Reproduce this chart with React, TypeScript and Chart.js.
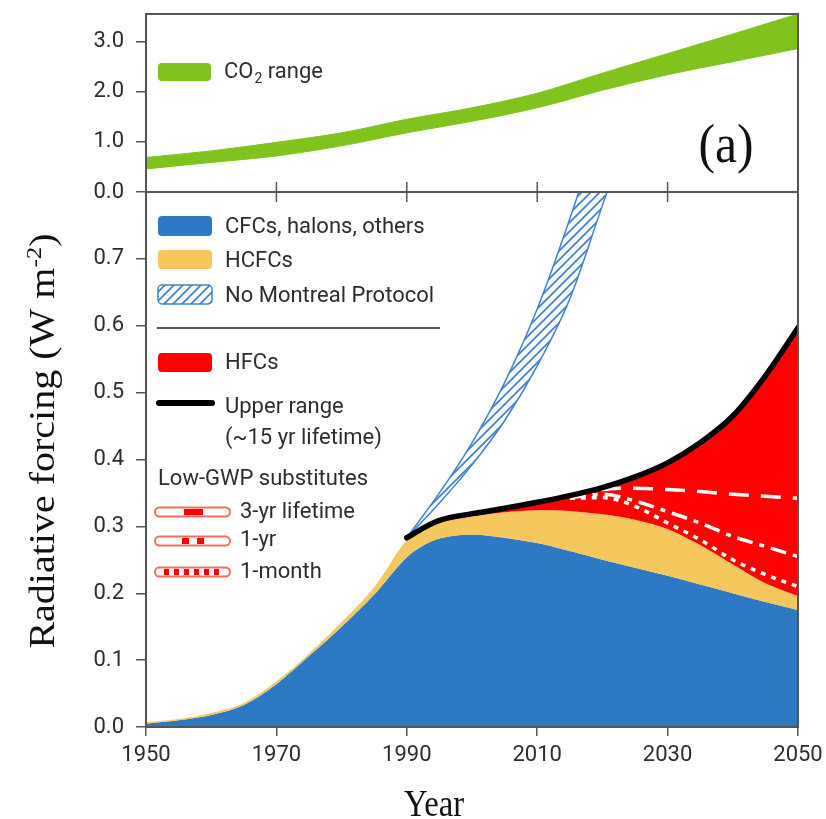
import React, { useEffect, useRef } from "react";
import { Chart, registerables } from "chart.js";
Chart.register(...registerables);

// ---------- data ----------
const co2Years = [1950, 1960, 1970, 1980, 1990, 2000, 2010, 2020, 2030, 2040, 2050];
const co2Low = [0.46, 0.59, 0.72, 0.92, 1.18, 1.41, 1.68, 2.03, 2.34, 2.6, 2.86];
const co2High = [0.69, 0.82, 0.99, 1.18, 1.45, 1.68, 1.97, 2.37, 2.76, 3.15, 3.55];

const years = [1950, 1955, 1960, 1965, 1970, 1975, 1980, 1985, 1990, 1993, 1995, 2000, 2005, 2010, 2015, 2020, 2025, 2030, 2035, 2040, 2045, 2050];
const cfc = [0.005, 0.01, 0.018, 0.033, 0.064, 0.106, 0.15, 0.198, 0.254, 0.274, 0.282, 0.288, 0.283, 0.275, 0.263, 0.25, 0.238, 0.226, 0.213, 0.2, 0.187, 0.175];
const hcfc = [0.002, 0.002, 0.003, 0.003, 0.004, 0.004, 0.007, 0.011, 0.025, 0.023, 0.023, 0.027, 0.038, 0.049, 0.06, 0.068, 0.072, 0.07, 0.059, 0.043, 0.028, 0.021];

const hfcYears = [1990, 1993, 1995, 2000, 2005, 2010, 2015, 2020, 2025, 2030, 2035, 2040, 2045, 2050];
const hfcUpper = [0.004, 0.003, 0.004, 0.004, 0.006, 0.012, 0.023, 0.04, 0.064, 0.099, 0.153, 0.222, 0.31, 0.401];

const nmpYears = [1990, 1995, 2000, 2005, 2010, 2015, 2020, 2025];
const nmpHigh = [0.283, 0.35, 0.425, 0.515, 0.625, 0.76, 0.91, 1.07];
const nmpLow = [0.283, 0.335, 0.392, 0.458, 0.54, 0.64, 0.78, 0.92];

const subYears = [2015, 2020, 2025, 2030, 2035, 2040, 2045, 2050];
const sub3yr = [0.345, 0.355, 0.357, 0.355, 0.352, 0.348, 0.345, 0.342];
const sub1yr = [0.343, 0.348, 0.338, 0.322, 0.305, 0.285, 0.27, 0.255];
const sub1mo = [0.342, 0.343, 0.33, 0.305, 0.28, 0.25, 0.228, 0.21];

const xTicks = [1950, 1970, 1990, 2010, 2030, 2050];
const midTicks = [1970, 1990, 2010, 2030];
const topYTicks = [0, 1, 2, 3];
const bottomYTicks = [0, 0.1, 0.2, 0.3, 0.4, 0.5, 0.6, 0.7];

// ---------- styles ----------
const FONT = "Roboto, 'Liberation Sans', sans-serif";
const SERIF = "'Liberation Serif', 'DejaVu Serif', serif";
const AXIS = "#555555";
const TEXT = "#2d2d2d";
const BLUE = "#2e79c4";
const YELLOW = "#f6c75c";
const RED = "#ff0000";
const GREEN = "#7fc31c";
const HATCH = "#3f7fd0";
const BOT_OFF = 180;

const pts = (xs: number[], ys: number[]) => xs.map((x, i) => ({ x, y: ys[i] }));

function makeHatch(ctx: CanvasRenderingContext2D) {
  const c = document.createElement("canvas");
  c.width = 9;
  c.height = 9;
  const g = c.getContext("2d")!;
  g.fillStyle = "#ffffff";
  g.fillRect(0, 0, 9, 9);
  g.strokeStyle = HATCH;
  g.lineWidth = 1.7;
  g.beginPath();
  g.moveTo(-1, 10);
  g.lineTo(10, -1);
  g.moveTo(-4, 4);
  g.lineTo(4, -4);
  g.moveTo(5, 13);
  g.lineTo(13, 5);
  g.stroke();
  return ctx.createPattern(c, "repeat")!;
}

function box(ctx: CanvasRenderingContext2D, x: number, y: number, w: number, h: number, fill: any, stroke?: string) {
  ctx.beginPath();
  ctx.roundRect(x, y, w, h, 4);
  ctx.fillStyle = fill;
  ctx.fill();
  if (stroke) {
    ctx.strokeStyle = stroke;
    ctx.lineWidth = 1.5;
    ctx.stroke();
  }
}

function label(ctx: CanvasRenderingContext2D, s: string, x: number, y: number) {
  ctx.font = `22px ${FONT}`;
  ctx.fillStyle = TEXT;
  ctx.textAlign = "left";
  ctx.textBaseline = "middle";
  ctx.fillText(s, x, y);
}

function frameAndMidTicks(chart: any, up: boolean) {
  const { ctx, chartArea: a, scales } = chart;
  ctx.save();
  ctx.strokeStyle = AXIS;
  ctx.lineWidth = 2;
  ctx.strokeRect(a.left, a.top, a.right - a.left, a.bottom - a.top);
  ctx.lineWidth = 1.5;
  const yb = up ? a.bottom : a.top;
  for (const v of midTicks) {
    const x = scales.x.getPixelForValue(v);
    ctx.beginPath();
    ctx.moveTo(x, yb);
    ctx.lineTo(x, up ? yb - 10 : yb + 10);
    ctx.stroke();
  }
  ctx.restore();
}

const topDecor = {
  id: "topDecor",
  afterDraw(chart: any) {
    frameAndMidTicks(chart, true);
    const ctx: CanvasRenderingContext2D = chart.ctx;
    ctx.save();
    box(ctx, 158, 63, 53, 18, GREEN);
    ctx.font = `22px ${FONT}`;
    ctx.fillStyle = TEXT;
    ctx.textBaseline = "middle";
    ctx.textAlign = "left";
    const x0 = 224;
    ctx.fillText("CO", x0, 72);
    const w1 = ctx.measureText("CO").width;
    ctx.font = `14px ${FONT}`;
    ctx.fillText("2", x0 + w1 + 1, 79);
    const w2 = ctx.measureText("2").width;
    ctx.font = `22px ${FONT}`;
    ctx.fillText(" range", x0 + w1 + w2 + 1, 72);
    // panel label
    ctx.translate(726, 162);
    ctx.scale(0.92, 1);
    ctx.font = `54px ${SERIF}`;
    ctx.fillStyle = "#111";
    ctx.textAlign = "center";
    ctx.textBaseline = "alphabetic";
    ctx.fillText("(a)", 0, 0);
    ctx.restore();
  },
};

function lowGwpIcon(ctx: CanvasRenderingContext2D, y: number, kind: number) {
  const x0 = 155, x1 = 230, h = 9;
  ctx.beginPath();
  ctx.roundRect(x0, y - h / 2, x1 - x0, h, 4.5);
  ctx.fillStyle = "#ffffff";
  ctx.fill();
  ctx.strokeStyle = "#ef6f5f";
  ctx.lineWidth = 2;
  ctx.stroke();
  ctx.fillStyle = RED;
  if (kind === 0) {
    ctx.fillRect(184, y - 3, 19, 6);
  } else if (kind === 1) {
    ctx.fillRect(182, y - 3, 7, 6);
    ctx.fillRect(197, y - 3, 7, 6);
  } else {
    for (const x of [164, 174, 184, 194, 204, 214]) ctx.fillRect(x, y - 3, 5, 6);
  }
}

function makeBottomDecor(hatch: CanvasPattern) {
  return {
    id: "bottomDecor",
    afterDraw(chart: any) {
      frameAndMidTicks(chart, false);
      const ctx: CanvasRenderingContext2D = chart.ctx;
      ctx.save();
      ctx.translate(0, -BOT_OFF);
      const tx = 225;
      box(ctx, 158, 216, 54, 20, BLUE);
      label(ctx, "CFCs, halons, others", tx, 227);
      box(ctx, 158, 250, 54, 19, YELLOW);
      label(ctx, "HCFCs", tx, 261);
      box(ctx, 158, 285, 54, 19, hatch, HATCH);
      label(ctx, "No Montreal Protocol", tx, 296);
      ctx.strokeStyle = AXIS;
      ctx.lineWidth = 2;
      ctx.beginPath();
      ctx.moveTo(157, 328);
      ctx.lineTo(440, 328);
      ctx.stroke();
      box(ctx, 158, 353, 54, 19, RED);
      label(ctx, "HFCs", tx, 363);
      ctx.strokeStyle = "#000";
      ctx.lineWidth = 6;
      ctx.lineCap = "round";
      ctx.beginPath();
      ctx.moveTo(159, 403);
      ctx.lineTo(212, 403);
      ctx.stroke();
      ctx.lineCap = "butt";
      label(ctx, "Upper range", tx, 407);
      label(ctx, "(~15 yr lifetime)", tx, 438);
      label(ctx, "Low-GWP substitutes", 158, 479);
      lowGwpIcon(ctx, 512, 0);
      label(ctx, "3-yr lifetime", 240, 512);
      lowGwpIcon(ctx, 541, 1);
      label(ctx, "1-yr", 240, 540);
      lowGwpIcon(ctx, 572, 2);
      label(ctx, "1-month", 240, 572);

      // y-axis title
      ctx.save();
      ctx.translate(54, 441);
      ctx.rotate(-Math.PI / 2);
      ctx.scale(1, 0.88);
      ctx.fillStyle = "#111";
      ctx.textBaseline = "alphabetic";
      ctx.textAlign = "left";
      const big = `40px ${SERIF}`;
      const small = `25px ${SERIF}`;
      const p1 = "Radiative forcing (W m";
      const p2 = "-2";
      const p3 = ")";
      ctx.font = big;
      const w1 = ctx.measureText(p1).width;
      const w3 = ctx.measureText(p3).width;
      ctx.font = small;
      const w2 = ctx.measureText(p2).width;
      let x = -(w1 + w2 + w3) / 2;
      ctx.font = big;
      ctx.fillText(p1, x, 0);
      x += w1;
      ctx.font = small;
      ctx.fillText(p2, x, -15);
      x += w2;
      ctx.font = big;
      ctx.fillText(p3, x, 0);
      ctx.restore();

      // x-axis title
      ctx.save();
      ctx.translate(434, 816);
      ctx.scale(0.86, 1);
      ctx.font = `38px ${SERIF}`;
      ctx.fillStyle = "#111";
      ctx.textAlign = "center";
      ctx.textBaseline = "alphabetic";
      ctx.fillText("Year", 0, 0);
      ctx.restore();

      ctx.restore();
    },
  };
}

const tickFont = { family: FONT, size: 22 };

const fitY = (s: any) => {
  s.width = 146;
  s.paddingTop = 0;
  s.paddingBottom = 0;
};
const fitX = (s: any) => {
  s.height = 92;
  s.paddingLeft = 0;
  s.paddingRight = 0;
};

export default function App() {
  const topRef = useRef<HTMLCanvasElement>(null);
  const botRef = useRef<HTMLCanvasElement>(null);

  useEffect(() => {
    const topChart = new Chart(topRef.current!, {
      type: "line",
      data: {
        datasets: [
          { label: "CO2 low", data: pts(co2Years, co2Low), fill: false, borderColor: GREEN, borderWidth: 1, pointRadius: 0 },
          { label: "CO2 range", data: pts(co2Years, co2High), fill: "-1", backgroundColor: GREEN, borderColor: GREEN, borderWidth: 1, pointRadius: 0 },
        ],
      },
      options: {
        animation: false,
        responsive: false,
        maintainAspectRatio: false,
        layout: { padding: { left: 0, right: 28, top: 14, bottom: 13 } },
        plugins: { legend: { display: false }, tooltip: { enabled: false } },
        elements: { line: { cubicInterpolationMode: "monotone" } },
        scales: {
          x: { type: "linear", min: 1950, max: 2050, display: false },
          y: {
            type: "linear",
            min: 0,
            max: 3.55,
            afterFit: fitY,
            afterBuildTicks: (s: any) => { s.ticks = topYTicks.map((v) => ({ value: v })); },
            ticks: { callback: (v: any) => Number(v).toFixed(1), font: tickFont, color: TEXT, padding: 12 },
            grid: { drawOnChartArea: false, tickLength: 10, color: AXIS, lineWidth: 1.5 },
            border: { color: AXIS, width: 2 },
          },
        },
      } as any,
      plugins: [topDecor],
    });

    const bctx = botRef.current!.getContext("2d")!;
    const hatch = makeHatch(bctx);
    const hcfcTop = cfc.map((v, i) => +(v + hcfc[i]).toFixed(4));
    const hfcTop = hfcYears.map((y, i) => +(hcfcTop[years.indexOf(y)] + hfcUpper[i]).toFixed(4));

    const botChart = new Chart(botRef.current!, {
      type: "line",
      data: {
        datasets: [
          { label: "CFCs, halons, others", data: pts(years, cfc), fill: "origin", backgroundColor: BLUE, borderWidth: 0, pointRadius: 0, order: 5 },
          { label: "HCFCs", data: pts(years, hcfcTop), fill: "-1", backgroundColor: YELLOW, borderWidth: 0, pointRadius: 0, order: 4 },
          { label: "HFCs (upper range)", data: pts(hfcYears, hfcTop), fill: "-1", backgroundColor: RED, borderColor: "#000", borderWidth: 5.5, borderCapStyle: "round", pointRadius: 0, order: 0 },
          { label: "No Montreal Protocol", data: pts(nmpYears, nmpHigh), fill: "+1", backgroundColor: hatch, borderColor: HATCH, borderWidth: 1.5, pointRadius: 0, order: 2 },
          { label: "No Montreal Protocol (low)", data: pts(nmpYears, nmpLow), fill: false, borderColor: HATCH, borderWidth: 1.5, pointRadius: 0, order: 2 },
          { label: "3-yr lifetime", data: pts(subYears, sub3yr), fill: false, borderColor: "#ffffff", borderWidth: 3.5, borderDash: [20, 12], pointRadius: 0, order: 1 },
          { label: "1-yr", data: pts(subYears, sub1yr), fill: false, borderColor: "#ffffff", borderWidth: 3.5, borderDash: [16, 7, 5, 7], pointRadius: 0, order: 1 },
          { label: "1-month", data: pts(subYears, sub1mo), fill: false, borderColor: "#ffffff", borderWidth: 3.5, borderDash: [5, 6], pointRadius: 0, order: 1 },
        ],
      },
      options: {
        animation: false,
        responsive: false,
        maintainAspectRatio: false,
        layout: { padding: { left: 0, right: 28, top: 12, bottom: 0 } },
        plugins: {
          legend: { display: false },
          tooltip: { enabled: false },
          filler: { drawTime: "beforeDatasetsDraw", propagate: false },
        },
        elements: { line: { cubicInterpolationMode: "monotone" } },
        scales: {
          x: {
            type: "linear",
            min: 1950,
            max: 2050,
            afterFit: fitX,
            afterBuildTicks: (s: any) => { s.ticks = xTicks.map((v) => ({ value: v })); },
            ticks: { callback: (v: any) => String(v), font: tickFont, color: TEXT, padding: 6, maxRotation: 0, autoSkip: false },
            grid: { drawOnChartArea: false, tickLength: 9, color: AXIS, lineWidth: 1.5 },
            border: { color: AXIS, width: 2 },
          },
          y: {
            type: "linear",
            min: 0,
            max: 0.8,
            afterFit: fitY,
            afterBuildTicks: (s: any) => { s.ticks = bottomYTicks.map((v) => ({ value: v })); },
            ticks: { callback: (v: any) => Number(v).toFixed(1), font: tickFont, color: TEXT, padding: 12 },
            grid: { drawOnChartArea: false, tickLength: 10, color: AXIS, lineWidth: 1.5 },
            border: { color: AXIS, width: 2 },
          },
        },
      } as any,
      plugins: [makeBottomDecor(hatch)],
    });

    return () => {
      topChart.destroy();
      botChart.destroy();
    };
  }, []);

  return (
    <div style={{ position: "absolute", left: 0, top: 0, width: 826, height: 819, background: "#ffffff", overflow: "hidden" }}>
      <canvas ref={botRef} width={826} height={639} style={{ position: "absolute", left: 0, top: BOT_OFF, width: 826, height: 639 }} />
      <canvas ref={topRef} width={826} height={205} style={{ position: "absolute", left: 0, top: 0, width: 826, height: 205 }} />
    </div>
  );
}
